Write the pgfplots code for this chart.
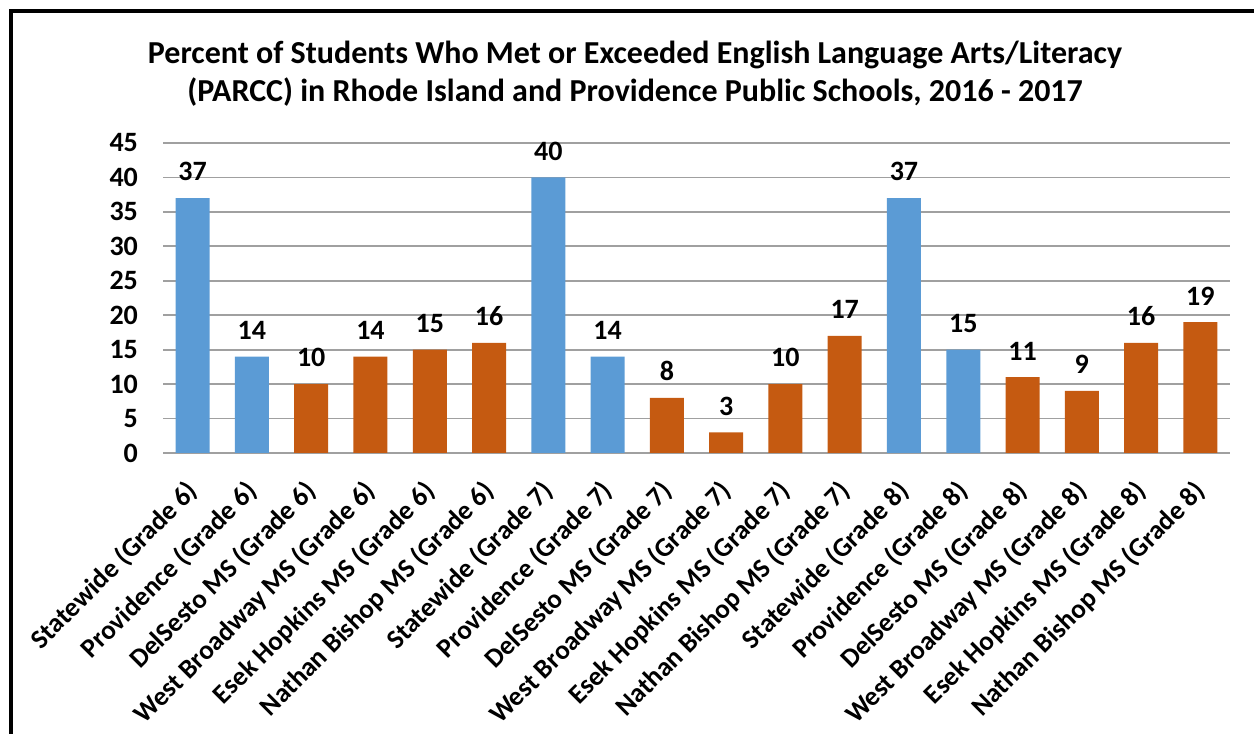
\documentclass[border=0pt]{standalone}
\usepackage{pgfplots}
\pgfplotsset{compat=1.18}
\usepackage{fontspec}
\setmainfont{Carlito}

\definecolor{barblue}{HTML}{5B9BD5}
\definecolor{barorange}{HTML}{C55A11}
\definecolor{gridgray}{HTML}{A0A0A0}

% grade 6, 7, 8 in turn; x = position of the bar
\pgfplotstableread{
x y
0 37
1 14
6 40
7 14
12 37
13 15
}\statedata
\pgfplotstableread{
x y
2 10
3 14
4 15
5 16
8 8
9 3
10 10
11 17
14 11
15 9
16 16
17 19
}\schooldata

\begin{document}
\begin{tikzpicture}
  % 1 px of the reference = 0.5pt, y counted from the bottom
  \useasboundingbox (0,0) rectangle (627pt,367pt);
  \draw[line width=1.6pt] (5.5pt,0) -- (5.5pt,361.5pt) -- (627pt,361.5pt);
  \node[font=\bfseries\fontsize{16}{19}\selectfont, align=center] at (317.5pt,330pt)
    {Percent of Students Who Met or Exceeded English Language Arts/Literacy\\
     (PARCC) in Rhode Island and Providence Public Schools, 2016 - 2017};
  \begin{axis}[
    at={(81.5pt,140.5pt)}, anchor=south west,
    scale only axis,
    width=533.5pt, height=155pt,
    ybar, bar width=17pt, bar shift=0pt,
    xmin=-0.5, xmax=17.5,
    ymin=0, ymax=45,
    ytick={0,5,...,45},
    xtick={0,...,17},
    xticklabels={Statewide (Grade 6), Providence (Grade 6), DelSesto MS (Grade 6),
      West Broadway MS (Grade 6), Esek Hopkins MS (Grade 6), Nathan Bishop MS (Grade 6),
      Statewide (Grade 7), Providence (Grade 7), DelSesto MS (Grade 7),
      West Broadway MS (Grade 7), Esek Hopkins MS (Grade 7), Nathan Bishop MS (Grade 7),
      Statewide (Grade 8), Providence (Grade 8), DelSesto MS (Grade 8),
      West Broadway MS (Grade 8), Esek Hopkins MS (Grade 8), Nathan Bishop MS (Grade 8)},
    xticklabel style={xshift=-4pt, yshift=-12.5pt, rotate=45, anchor=north east,
      font=\bfseries\fontsize{13.5}{16}\selectfont, inner sep=0pt},
    yticklabel style={font=\bfseries\fontsize{14}{16}\selectfont, /pgf/number format/assume math mode=true, xshift=-9pt},
    major tick length=0pt,
    axis line style={draw=none},
    ymajorgrids, grid style={gridgray, line width=0.9pt},
    extra y ticks={0}, extra y tick labels={},
    extra y tick style={grid style={gridgray, line width=1.2pt}},
    nodes near coords,
    every node near coord/.append style={font=\bfseries\fontsize{14}{16}\selectfont, /pgf/number format/assume math mode=true, yshift=5pt},
    clip=false,
  ]
    \addplot[fill=barblue, draw=none] table[x=x,y=y] {\statedata};
    \addplot[fill=barorange, draw=none] table[x=x,y=y] {\schooldata};
  \end{axis}
\end{tikzpicture}
\end{document}
